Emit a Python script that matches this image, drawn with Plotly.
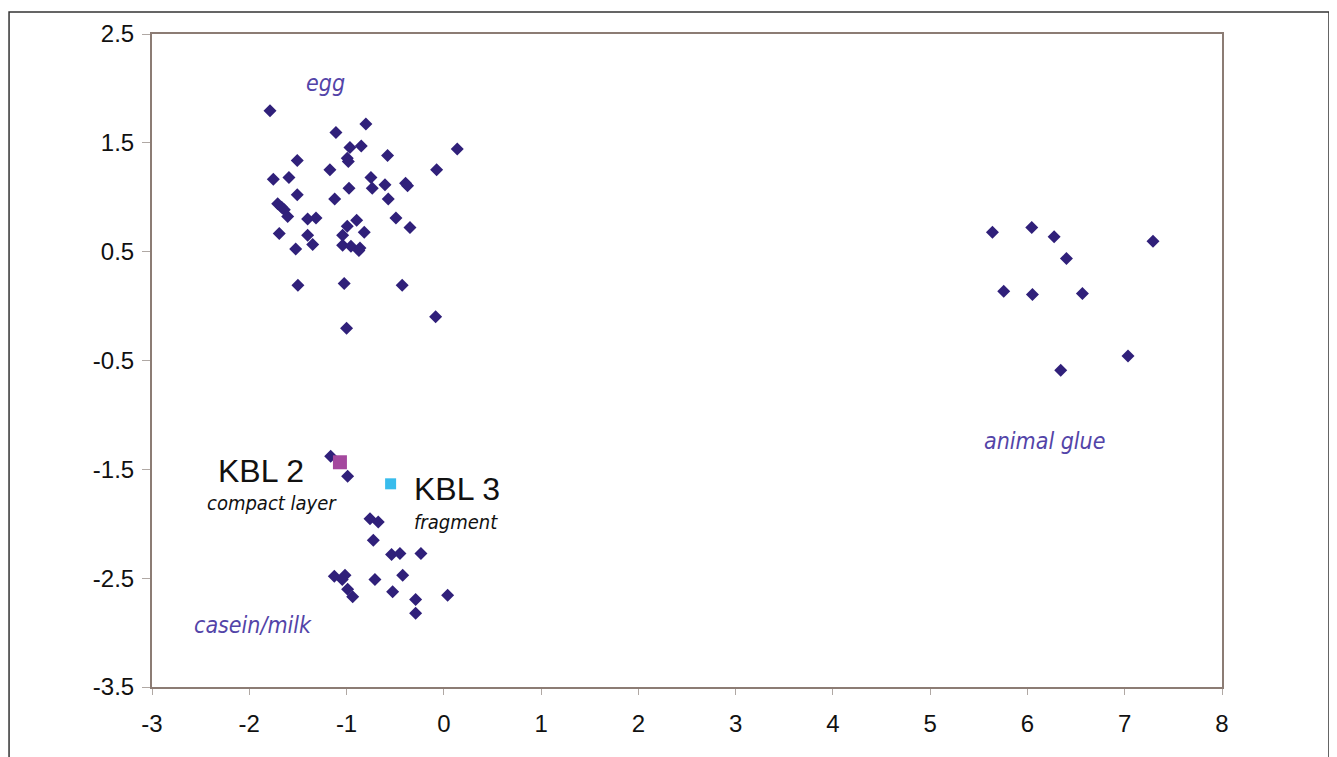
import plotly.graph_objects as go

egg_x = [-1.787, -1.109, -0.801, -0.965, -0.849, 0.138, -1.507, -0.993, -0.982, -0.578,
         -1.171, -0.074, -1.753, -1.592, -0.749, -0.975, -0.736, -0.605, -0.393, -0.373,
         -1.507, -1.122, -0.571, -1.708, -1.667, -1.640, -1.605, -1.400, -1.314, -0.896,
         -0.492, -0.993, -0.348, -0.818, -1.692, -1.400, -1.040, -1.348, -1.040, -0.955,
         -0.862, -0.873, -1.523, -1.500, -1.024, -0.428, -0.084, -1.000]
egg_y = [1.795, 1.596, 1.673, 1.456, 1.472, 1.444, 1.337, 1.358, 1.328, 1.383,
         1.252, 1.252, 1.166, 1.181, 1.181, 1.083, 1.083, 1.114, 1.129, 1.105,
         1.023, 0.983, 0.983, 0.940, 0.907, 0.886, 0.824, 0.800, 0.809, 0.788,
         0.809, 0.733, 0.723, 0.678, 0.666, 0.650, 0.650, 0.565, 0.559, 0.549,
         0.534, 0.510, 0.525, 0.192, 0.208, 0.192, -0.098, -0.204]

casein_x = [-1.163, -0.989, -0.759, -0.674, -0.725, -0.537, -0.451, -0.235, -1.126, -1.016,
            -1.044, -0.708, -0.423, -0.989, -0.937, -0.526, -0.290, 0.039, -0.290]
casein_y = [-1.380, -1.563, -1.954, -1.984, -2.152, -2.283, -2.274, -2.274, -2.482, -2.473,
            -2.512, -2.512, -2.473, -2.601, -2.671, -2.625, -2.695, -2.656, -2.823]

glue_x = [5.640, 6.044, 6.274, 6.401, 7.291, 5.756, 6.051, 6.565, 7.034, 6.342]
glue_y = [0.678, 0.723, 0.638, 0.437, 0.595, 0.137, 0.107, 0.116, -0.458, -0.589]

kbl2_x, kbl2_y = [-1.068], [-1.435]
kbl3_x, kbl3_y = [-0.547], [-1.633]

x_ticks = [-3, -2, -1, 0, 1, 2, 3, 4, 5, 6, 7, 8]
y_ticks = [2.5, 1.5, 0.5, -0.5, -1.5, -2.5, -3.5]

mcol = "#30207a"
fig = go.Figure()
for xs, ys in [(egg_x, egg_y), (casein_x, casein_y), (glue_x, glue_y)]:
    fig.add_trace(go.Scatter(x=xs, y=ys, mode="markers",
                             marker=dict(symbol="diamond", size=10, color=mcol, line=dict(width=0)),
                             showlegend=False))
fig.add_trace(go.Scatter(x=kbl2_x, y=kbl2_y, mode="markers",
                         marker=dict(symbol="square", size=14, color="#a4489e"), showlegend=False))
fig.add_trace(go.Scatter(x=kbl3_x, y=kbl3_y, mode="markers",
                         marker=dict(symbol="square", size=11, color="#38bcec"), showlegend=False))

lab = "#5344a8"
narrow = "DejaVu Sans Condensed, Liberation Sans Narrow, Arial Narrow, Liberation Sans, Arial"
sans = "Liberation Sans, Arial"
ann = [
    dict(x=-1.22, y=2.05, text="<i>egg</i>", xanchor="center", font=dict(size=23, color=lab, family=narrow)),
    dict(x=6.18, y=-1.24, text="<i>animal glue</i>", xanchor="center", font=dict(size=23, color=lab, family=narrow)),
    dict(x=-1.96, y=-2.93, text="<i>casein/milk</i>", xanchor="center", font=dict(size=23, color=lab, family=narrow)),
    dict(x=-2.342, y=-1.511, text="KBL 2", xanchor="left", font=dict(size=32, color="#111111", family=sans)),
    dict(x=-2.455, y=-1.813, text="<i>compact layer</i>", xanchor="left", font=dict(size=20, color="#111111", family=narrow)),
    dict(x=-0.328, y=-1.685, text="KBL 3", xanchor="left", font=dict(size=32, color="#111111", family=sans)),
    dict(x=-0.328, y=-1.987, text="<i>fragment</i>", xanchor="left", font=dict(size=20, color="#111111", family=narrow)),
]
for a in ann:
    a.update(showarrow=False, xref="x", yref="y", yanchor="middle")

fig.update_layout(
    width=1329, height=749,
    margin=dict(l=144, r=115, t=24, b=70),
    paper_bgcolor="white", plot_bgcolor="white",
    annotations=ann,
    font=dict(family=sans, size=24, color="#111111"),
    shapes=[dict(type="rect", xref="paper", yref="paper",
                 x0=-0.1336, x1=1.1, y0=-0.13, y1=1.0336,
                 line=dict(color="#333333", width=1.5), layer="below")],
)
fig.update_xaxes(range=[-3, 8], tickvals=x_ticks, ticktext=[str(v) for v in x_ticks],
                 showgrid=False, zeroline=False,
                 showline=True, linecolor="#8c7c74", linewidth=2, mirror=True,
                 ticks="outside", ticklen=6, tickcolor="#b0a8a4", ticklabelstandoff=8,
                 tickfont=dict(size=24, family=sans, color="#111111"))
fig.update_yaxes(range=[-3.5, 2.5], tickvals=y_ticks, ticktext=[str(v) for v in y_ticks],
                 showgrid=False, zeroline=False,
                 showline=True, linecolor="#8c7c74", linewidth=2, mirror=True,
                 ticks="outside", ticklen=8, tickcolor="#b0a8a4", ticklabelstandoff=3,
                 tickfont=dict(size=24, family=sans, color="#111111"))

fig.write_html("out.html")
